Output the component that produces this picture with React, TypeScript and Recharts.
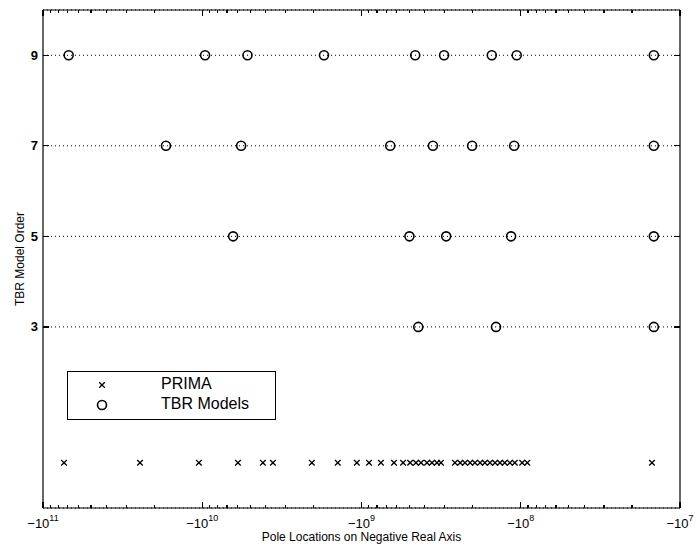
import React from 'react';
import { ScatterChart, Scatter, XAxis, YAxis, CartesianGrid, Legend } from 'recharts';

// Pole magnitudes (poles lie on the negative real axis: value = -magnitude)
const primaPoles = [7.38e10, 2.46e10, 1.05e10, 5.97e9, 4.16e9, 3.6e9, 2.05e9, 1.41e9, 1.07e9, 8.97e8, 7.55e8, 6.25e8, 5.48e8, 4.95e8, 4.55e8, 4.23e8, 3.88e8, 3.61e8, 3.36e8, 3.17e8, 2.59e8, 2.4e8, 2.24e8, 2.08e8, 1.94e8, 1.8e8, 1.68e8, 1.56e8, 1.45e8, 1.35e8, 1.26e8, 1.17e8, 1.09e8, 9.8e7, 9.1e7, 1.5e7];
const tbrOrder3 = [4.4e8, 1.43e8, 1.46e7];
const tbrOrder5 = [6.4e9, 5.0e8, 2.94e8, 1.15e8, 1.46e7];
const tbrOrder7 = [1.69e10, 5.7e9, 6.6e8, 3.56e8, 2.02e8, 1.1e8, 1.46e7];
const tbrOrder9 = [6.9e10, 9.6e9, 5.2e9, 1.72e9, 4.6e8, 3.03e8, 1.52e8, 1.06e8, 1.46e7];
const modelOrderTicks = [3, 5, 7, 9];
const decadeExponents = [7, 8, 9, 10, 11];
const minorMultipliers = [2, 3, 4, 5, 6, 7, 8, 9];

const primaData = primaPoles.map((m) => ({ m, order: 0 }));
const tbrData = [
  ...tbrOrder3.map((m) => ({ m, order: 3 })),
  ...tbrOrder5.map((m) => ({ m, order: 5 })),
  ...tbrOrder7.map((m) => ({ m, order: 7 })),
  ...tbrOrder9.map((m) => ({ m, order: 9 })),
];

const xTicks: number[] = [];
decadeExponents.forEach((e) => {
  xTicks.push(Math.pow(10, e));
  if (e < 11) minorMultipliers.forEach((k) => xTicks.push(k * Math.pow(10, e)));
});

const FONT = 'Liberation Sans, Arial, Helvetica, sans-serif';

const isMajor = (v: number) => {
  const l = Math.log10(v);
  return Math.abs(l - Math.round(l)) < 1e-6;
};

const BottomTick = (props: any) => {
  const { x, y, payload } = props;
  const v = payload.value;
  const major = isMajor(v);
  const e = Math.round(Math.log10(v));
  return (
    <g>
      <line x1={x} y1={y} x2={x} y2={y - (major ? 6 : 3)} stroke="#000" strokeWidth={1.2} shapeRendering="crispEdges" />
      {major && (
        <text x={x} y={y + 20} textAnchor="middle" fontSize={13} fontFamily={FONT} fill="#000">
          <tspan>−10</tspan>
          <tspan dy={-7} fontSize={9}>{e}</tspan>
        </text>
      )}
    </g>
  );
};

const TopTick = (props: any) => {
  const { x, y, payload } = props;
  const major = isMajor(payload.value);
  return <line x1={x} y1={y} x2={x} y2={y + (major ? 6 : 3)} stroke="#000" strokeWidth={1.2} shapeRendering="crispEdges" />;
};

const LeftTick = (props: any) => {
  const { x, y, payload } = props;
  return (
    <g>
      <line x1={x} y1={y} x2={x + 6} y2={y} stroke="#000" strokeWidth={1.2} shapeRendering="crispEdges" />
      <text x={x - 5} y={y} dy={4.5} textAnchor="end" fontSize={13} fontWeight="bold" fontFamily={FONT} fill="#000">
        {payload.value}
      </text>
    </g>
  );
};

const RightTick = (props: any) => {
  const { x, y } = props;
  return <line x1={x} y1={y} x2={x - 6} y2={y} stroke="#000" strokeWidth={1.2} shapeRendering="crispEdges" />;
};

const CircleShape = (props: any) => {
  const { cx, cy } = props;
  return <circle cx={cx} cy={cy} r={4.5} fill="none" stroke="#000" strokeWidth={1.6} />;
};

const CrossShape = (props: any) => {
  const { cx, cy } = props;
  const s = 2.8;
  return (
    <g stroke="#000" strokeWidth={1.3}>
      <line x1={cx - s} y1={cy - s} x2={cx + s} y2={cy + s} />
      <line x1={cx - s} y1={cy + s} x2={cx + s} y2={cy - s} />
    </g>
  );
};

const LegendBox = () => (
  <div
    style={{
      width: 207,
      height: 47,
      border: '1px solid #000',
      background: '#fff',
      fontFamily: FONT,
      fontSize: 16,
      color: '#000',
      position: 'relative',
    }}
  >
    <svg width={20} height={20} style={{ position: 'absolute', left: 24, top: 3 }}>
      <CrossShape cx={10} cy={10} />
    </svg>
    <svg width={20} height={20} style={{ position: 'absolute', left: 24, top: 23 }}>
      <CircleShape cx={10} cy={10} />
    </svg>
    <div style={{ position: 'absolute', left: 93, top: 3, lineHeight: '18px' }}>PRIMA</div>
    <div style={{ position: 'absolute', left: 93, top: 23, lineHeight: '18px' }}>TBR Models</div>
  </div>
);

const YLabel = (props: any) => {
  const vb = props.viewBox || {};
  const cy = vb.y + vb.height / 2;
  const x = 24;
  return (
    <text x={x} y={cy} transform={`rotate(-90 ${x} ${cy})`} textAnchor="middle" fontSize={12} fontFamily={FONT} fill="#000">
      TBR Model Order
    </text>
  );
};

const emptyFrame: { m: number; order: number }[] = [];

export default function App() {
  return (
    <div style={{ position: 'absolute', left: 0, top: 0, background: '#fff' }}>
      <ScatterChart width={695} height={548} margin={{ top: 9, right: 14, bottom: 0, left: 0 }}>
        <CartesianGrid horizontal={true} vertical={false} stroke="#000" strokeDasharray="1 3" strokeWidth={1} />
        <XAxis
          dataKey="m"
          type="number"
          scale="log"
          domain={[1e7, 1e11]}
          reversed
          ticks={xTicks}
          interval={0}
          height={40}
          tickSize={0}
          tickMargin={0}
          tick={<BottomTick />}
          axisLine={{ stroke: '#000', strokeWidth: 1.2 }}
          allowDataOverflow
          label={{ value: 'Pole Locations on Negative Real Axis', position: 'insideBottom', offset: 7, fontSize: 12, fontFamily: FONT, fill: '#000' }}
        />
        <XAxis
          xAxisId="t"
          dataKey="m"
          orientation="top"
          type="number"
          scale="log"
          domain={[1e7, 1e11]}
          reversed
          ticks={xTicks}
          interval={0}
          height={1}
          tickSize={0}
          tickMargin={0}
          tick={<TopTick />}
          axisLine={{ stroke: '#000', strokeWidth: 1.2 }}
          allowDataOverflow
        />
        <YAxis
          dataKey="order"
          type="number"
          domain={[-1, 10]}
          ticks={modelOrderTicks}
          interval={0}
          width={43}
          tickSize={0}
          tickMargin={0}
          tick={<LeftTick />}
          axisLine={{ stroke: '#000', strokeWidth: 1.2 }}
          allowDataOverflow
          label={{ content: <YLabel /> }}
        />
        <YAxis
          yAxisId="r"
          dataKey="order"
          orientation="right"
          type="number"
          domain={[-1, 10]}
          ticks={modelOrderTicks}
          interval={0}
          width={1}
          tickSize={0}
          tickMargin={0}
          tick={<RightTick />}
          axisLine={{ stroke: '#000', strokeWidth: 1.2 }}
          allowDataOverflow
        />
        <Legend
          layout="vertical"
          align="center"
          verticalAlign="middle"
          content={() => <LegendBox />}
          wrapperStyle={{ left: 67, top: 371, width: 209, height: 49 }}
        />
        <Scatter name="PRIMA" data={primaData} shape={<CrossShape />} isAnimationActive={false} />
        <Scatter name="TBR Models" data={tbrData} shape={<CircleShape />} isAnimationActive={false} />
        <Scatter name="frame" xAxisId="t" yAxisId="r" data={emptyFrame} legendType="none" isAnimationActive={false} />
      </ScatterChart>
    </div>
  );
}
